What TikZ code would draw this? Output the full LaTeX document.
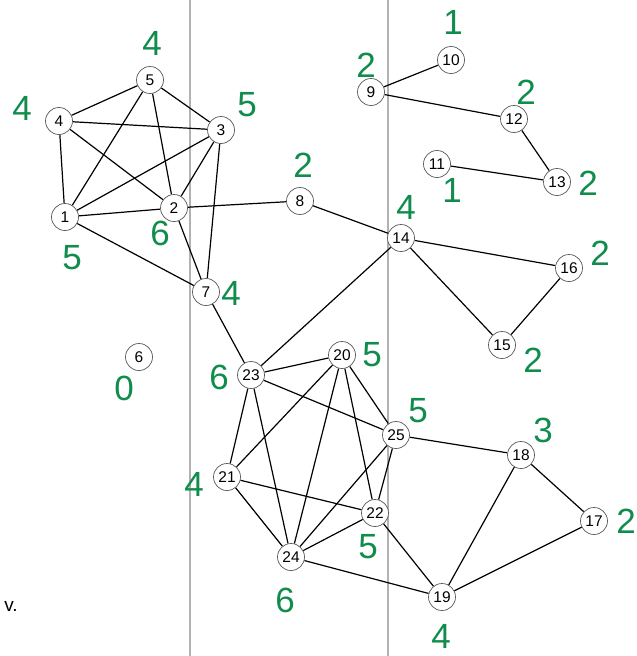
\documentclass[tikz,border=0pt]{standalone}
\usepackage{fontspec}
\setmainfont{Liberation Sans}
\usepackage{tikz}
\usetikzlibrary{backgrounds}
\pgfdeclarelayer{background}
\pgfsetlayers{background,main}
\usepackage{xcolor}
\definecolor{gradegreen}{RGB}{16,140,76}
\definecolor{foldgray}{RGB}{178,178,178}
\definecolor{rimgray}{RGB}{90,90,90}

\begin{document}
\begin{tikzpicture}[
  x=1pt, y=-1pt,
  every node/.style={font=\fontsize{15.5}{17}\selectfont},
  vertex/.style={draw=rimgray, fill=white, circle, inner sep=0pt,
    minimum size=27pt, line width=0.7pt},
  count/.style={text=gradegreen, inner sep=0pt,
    font=\fontsize{35}{37}\selectfont},
  link/.style={line width=1.2pt},
  fold/.style={draw=foldgray, line width=1.2pt},
]
\useasboundingbox (0,0) rectangle (637,656);

\node[vertex] at ( 65,217) (v1)  {1};
\node[vertex] at (174,208) (v2)  {2};
\node[vertex] at (221,130) (v3)  {3};
\node[vertex] at ( 59,121) (v4)  {4};
\node[vertex] at (150, 80) (v5)  {5};
\node[vertex] at (139,357) (v6)  {6};
\node[vertex] at (206,292) (v7)  {7};
\node[vertex] at (300,201) (v8)  {8};
\node[vertex] at (371, 92) (v9)  {9};
\node[vertex] at (451, 60) (v10) {10};
\node[vertex] at (437,164) (v11) {11};
\node[vertex] at (514,119) (v12) {12};
\node[vertex] at (557,182) (v13) {13};
\node[vertex] at (401,238) (v14) {14};
\node[vertex] at (502,345) (v15) {15};
\node[vertex] at (569,268) (v16) {16};
\node[vertex] at (594,521) (v17) {17};
\node[vertex] at (521,455) (v18) {18};
\node[vertex] at (442,597) (v19) {19};
\node[vertex] at (342,355) (v20) {20};
\node[vertex] at (227,477) (v21) {21};
\node[vertex] at (375,513) (v22) {22};
\node[vertex] at (251,375) (v23) {23};
\node[vertex] at (291,557) (v24) {24};
\node[vertex] at (396,435) (v25) {25};

\node[count] at ( 72,258) (d1)  {5};
\node[count] at (160,233) (d2)  {6};
\node[count] at (247,105) (d3)  {5};
\node[count] at ( 22,108) (d4)  {4};
\node[count] at (152, 43) (d5)  {4};
\node[count] at (124,388) (d6)  {0};
\node[count] at (231,293) (d7)  {4};
\node[count] at (303,165) (d8)  {2};
\node[count] at (366, 65) (d9)  {2};
\node[count] at (453, 22) (d10) {1};
\node[count] at (452,190) (d11) {1};
\node[count] at (526, 92) (d12) {2};
\node[count] at (588,183) (d13) {2};
\node[count] at (406,207) (d14) {4};
\node[count] at (533,360) (d15) {2};
\node[count] at (600,253) (d16) {2};
\node[count] at (626,521) (d17) {2};
\node[count] at (543,430) (d18) {3};
\node[count] at (441,636) (d19) {4};
\node[count] at (372,355) (d20) {5};
\node[count] at (194,484) (d21) {4};
\node[count] at (368,547) (d22) {5};
\node[count] at (219,377) (d23) {6};
\node[count] at (285,600) (d24) {6};
\node[count] at (418,411) (d25) {5};

\node[font=\fontsize{19}{21}\selectfont] at (11,606) (tag) {v.};

\begin{pgfonlayer}{background}
\draw[fold] (190,0) -- (190,656);
\draw[fold] (388,0) -- (388,656);
\draw[link] (v1) -- (v2);
\draw[link] (v1) -- (v3);
\draw[link] (v1) -- (v4);
\draw[link] (v1) -- (v5);
\draw[link] (v2) -- (v3);
\draw[link] (v2) -- (v4);
\draw[link] (v2) -- (v5);
\draw[link] (v3) -- (v4);
\draw[link] (v3) -- (v5);
\draw[link] (v4) -- (v5);
\draw[link] (v1) -- (v7);
\draw[link] (v2) -- (v7);
\draw[link] (v3) -- (v7);
\draw[link] (v2) -- (v8);
\draw[link] (v8) -- (v14);
\draw[link] (v7) -- (v23);
\draw[link] (v9) -- (v10);
\draw[link] (v9) -- (v12);
\draw[link] (v12) -- (v13);
\draw[link] (v11) -- (v13);
\draw[link] (v14) -- (v16);
\draw[link] (v14) -- (v15);
\draw[link] (v15) -- (v16);
\draw[link] (v14) -- (v23);
\draw[link] (v23) -- (v20);
\draw[link] (v23) -- (v25);
\draw[link] (v23) -- (v21);
\draw[link] (v23) -- (v24);
\draw[link] (v20) -- (v21);
\draw[link] (v20) -- (v24);
\draw[link] (v20) -- (v22);
\draw[link] (v20) -- (v25);
\draw[link] (v25) -- (v24);
\draw[link] (v25) -- (v22);
\draw[link] (v25) -- (v18);
\draw[link] (v21) -- (v22);
\draw[link] (v21) -- (v24);
\draw[link] (v22) -- (v24);
\draw[link] (v22) -- (v19);
\draw[link] (v24) -- (v19);
\draw[link] (v18) -- (v19);
\draw[link] (v18) -- (v17);
\draw[link] (v17) -- (v19);
\end{pgfonlayer}
\end{tikzpicture}
\end{document}
